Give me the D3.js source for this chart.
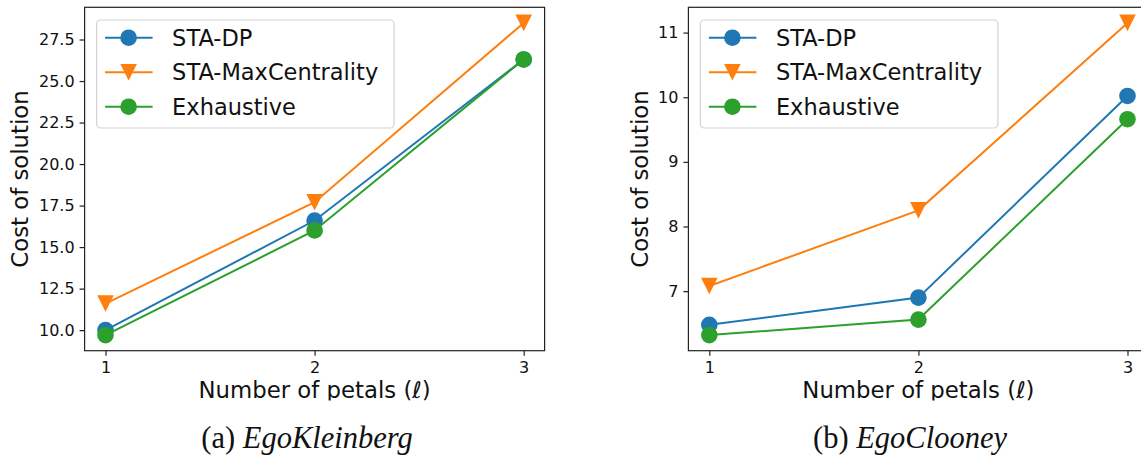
<!DOCTYPE html>
<html>
<head>
<meta charset="utf-8">
<script src="https://cdn.jsdelivr.net/npm/d3@7"></script>
<style>
  html, body { margin: 0; padding: 0; background: #fff; }
  svg { display: block; }
</style>
</head>
<body>
<div id="chart"></div>
<script>
// Values
const petals = [1, 2, 3];
const seriesNames = ["STA-DP", "STA-MaxCentrality", "Exhaustive"];

// (a) EgoKleinberg
const kleinbergDP = [10.0, 16.6, 26.3];
const kleinbergMaxCentrality = [11.6, 17.7, 28.5];
const kleinbergExhaustive = [9.7, 16.0, 26.3];
const kleinbergTicks = [10, 12.5, 15, 17.5, 20, 22.5, 25, 27.5];

// (b) EgoClooney
const clooneyDP = [6.48, 6.9, 10.02];
const clooneyMaxCentrality = [7.08, 8.25, 11.15];
const clooneyExhaustive = [6.32, 6.56, 9.66];
const clooneyTicks = [7, 8, 9, 10, 11];

const xTicks = [1, 2, 3];

const colors = ["#1f77b4", "#ff7f0e", "#2ca02c"];
const font = "DejaVu Sans, sans-serif";

const W = 1141, H = 463;
const svg = d3.select('#chart')
  .append('svg')
  .attr('width', W)
  .attr('height', H);

// matplotlib style 'v' marker, centred on its bounding box
const triangleDown = {
  draw(context, size) {
    const h = Math.sqrt(size) / 2;
    context.moveTo(0, h);
    context.lineTo(-h, -h);
    context.lineTo(h, -h);
    context.closePath();
  }
};
const markerSize = 16.6;
const circlePath = d3.symbol().type(d3.symbolCircle).size(Math.PI * (markerSize / 2) ** 2)();
const trianglePath = d3.symbol().type(triangleDown).size(markerSize * markerSize)();
const markerPaths = [circlePath, trianglePath, circlePath];

// the subplot images are cut just under the x label
svg.append('defs').append('clipPath')
  .attr('id', 'fig-clip')
  .append('rect')
  .attr('x', 0).attr('y', 0)
  .attr('width', W).attr('height', 400.5);

const figure = svg.append('g').attr('clip-path', 'url(#fig-clip)');

function drawPanel(panel) {
  const { left, right, top, bottom } = panel.box;
  const all = panel.series.flat();
  const lo = d3.min(all), hi = d3.max(all);
  const pad = (hi - lo) * 0.05;   // matplotlib default margins

  const x = d3.scaleLinear().domain([0.9, 3.1]).range([left, right]);
  const y = d3.scaleLinear().domain([lo - pad, hi + pad]).range([bottom, top]);

  const g = figure.append('g');

  // Axes
  const xAxis = g.append('g')
    .attr('transform', `translate(0, ${bottom})`)
    .call(d3.axisBottom(x).tickValues(xTicks).tickFormat(d3.format('d')).tickSize(5).tickPadding(6));
  const yAxis = g.append('g')
    .attr('transform', `translate(${left}, 0)`)
    .call(d3.axisLeft(y).tickValues(panel.ticks).tickFormat(panel.format).tickSize(5).tickPadding(5));

  [xAxis, yAxis].forEach(ax => {
    ax.select('.domain').remove();
    ax.selectAll('.tick line').attr('stroke', '#222').attr('stroke-width', 1.2);
    ax.selectAll('.tick text')
      .attr('fill', '#111')
      .style('font-family', font)
      .style('font-size', '16px');
  });

  // Frame
  g.append('rect')
    .attr('x', left).attr('y', top)
    .attr('width', right - left).attr('height', bottom - top)
    .attr('fill', 'none')
    .attr('stroke', '#222')
    .attr('stroke-width', 1.2);

  // Lines + markers, series by series
  const line = d3.line().x((d, i) => x(petals[i])).y(d => y(d));
  panel.series.forEach((values, s) => {
    g.append('path')
      .datum(values)
      .attr('d', line)
      .attr('fill', 'none')
      .attr('stroke', colors[s])
      .attr('stroke-width', 2);

    g.selectAll(null)
      .data(values)
      .enter()
      .append('path')
      .attr('d', markerPaths[s])
      .attr('transform', (d, i) => `translate(${x(petals[i])}, ${y(d)})`)
      .attr('fill', colors[s]);
  });

  // Legend
  const lx = left + 12, ly = top + 12.7;
  const legend = g.append('g').attr('transform', `translate(${lx}, ${ly})`);
  legend.append('rect')
    .attr('width', 297.5).attr('height', 108)
    .attr('rx', 4).attr('ry', 4)
    .attr('fill', 'rgba(255,255,255,0.8)')
    .attr('stroke', '#d4d4d4')
    .attr('stroke-width', 1.2);

  const rowY = d3.scalePoint().domain(seriesNames).range([17.7, 86.7]);
  seriesNames.forEach((name, s) => {
    const row = legend.append('g').attr('transform', `translate(0, ${rowY(name)})`);
    row.append('line')
      .attr('x1', 8.5).attr('x2', 56)
      .attr('stroke', colors[s])
      .attr('stroke-width', 2);
    row.append('path')
      .attr('d', markerPaths[s])
      .attr('transform', 'translate(32, 0)')
      .attr('fill', colors[s]);
    row.append('text')
      .attr('x', 75.5)
      .attr('dy', '0.35em')
      .text(name)
      .style('font-family', font)
      .style('font-size', '22.5px')
      .attr('fill', '#111');
  });

  // Axis titles
  g.append('text')
    .attr('transform', `translate(${panel.yLabelX}, ${(top + bottom) / 2}) rotate(-90)`)
    .attr('text-anchor', 'middle')
    .text('Cost of solution')
    .style('font-family', font)
    .style('font-size', '22.8px')
    .attr('fill', '#111');

  const xl = g.append('text')
    .attr('x', (left + right) / 2)
    .attr('y', 398)
    .attr('text-anchor', 'middle')
    .style('font-family', font)
    .style('font-size', '22.8px')
    .attr('fill', '#111');
  xl.append('tspan').text('Number of petals (');
  xl.append('tspan').text('\u2113').style('font-style', 'italic');
  xl.append('tspan').text(')');

  // Caption under the subplot
  const cap = svg.append('text')
    .attr('x', panel.captionX)
    .attr('y', 448)
    .attr('text-anchor', 'middle')
    .style('font-family', 'Liberation Serif, Times New Roman, serif')
    .style('font-size', '30.5px')
    .attr('fill', '#111');
  cap.append('tspan').text(panel.tag + ' ');
  cap.append('tspan').text(panel.name).style('font-style', 'italic');
}

drawPanel({
  box: { left: 84.6, right: 544.6, top: 7.3, bottom: 350.7 },
  series: [kleinbergDP, kleinbergMaxCentrality, kleinbergExhaustive],
  ticks: kleinbergTicks,
  format: d3.format('.1f'),
  yLabelX: 28,
  captionX: 307,
  tag: '(a)',
  name: 'EgoKleinberg'
});

drawPanel({
  box: { left: 688.4, right: 1148.4, top: 7.3, bottom: 350.7 },
  series: [clooneyDP, clooneyMaxCentrality, clooneyExhaustive],
  ticks: clooneyTicks,
  format: d3.format('d'),
  yLabelX: 648,
  captionX: 910,
  tag: '(b)',
  name: 'EgoClooney'
});
</script>
</body>
</html>
